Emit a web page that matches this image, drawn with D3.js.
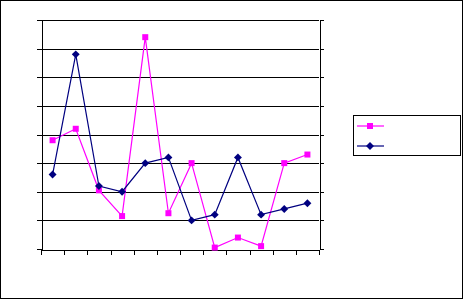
<!DOCTYPE html>
<html>
<head>
<meta charset="utf-8">
<script src="https://cdn.jsdelivr.net/npm/d3@7"></script>
<style>
  html, body { margin: 0; padding: 0; background: #fff; }
  svg { display: block; }
</style>
</head>
<body>
<svg id="chart" width="464" height="300"></svg>
<script>
// categories (no labels shown in the picture)
const categories = [1, 2, 3, 4, 5, 6, 7, 8, 9, 10, 11, 12];
const yTicks = [0, 1, 2, 3, 4, 5, 6, 7, 8];

// series values
const pinkValues = [3.8, 4.2, 2.05, 1.15, 7.4, 1.25, 3.0, 0.05, 0.4, 0.1, 3.0, 3.3];
const navyValues = [2.6, 6.8, 2.2, 2.0, 3.0, 3.2, 1.0, 1.2, 3.2, 1.2, 1.4, 1.6];

const svg = d3.select('#chart');
const W = 464, H = 300;

// outer frame
svg.append('rect')
  .attr('x', 0.5).attr('y', 0.5)
  .attr('width', W - 2).attr('height', H - 2)
  .attr('fill', '#fff').attr('stroke', '#000').attr('stroke-width', 1);

// plot area
const plotL = 41, plotR = 319, plotT = 20, plotB = 249;

const x = d3.scaleBand().domain(categories).range([plotL, plotR]);
const xEdge = d3.scaleLinear().domain([0, categories.length]).range([plotL, plotR]);
const y = d3.scaleLinear().domain([0, 8]).range([plotB, plotT]);
const py = d => Math.round(y(d)) + 0.5;

// gridlines
svg.append('g')
  .selectAll('line')
  .data(yTicks.slice(1))
  .join('line')
  .attr('x1', plotL).attr('x2', plotR)
  .attr('y1', py).attr('y2', py)
  .attr('stroke', '#000').attr('stroke-width', 1);

// left axis
const yAxisL = svg.append('g')
  .attr('transform', `translate(${plotL + 0.5},0)`)
  .call(d3.axisLeft(y).tickValues(yTicks).tickSize(5).tickSizeOuter(0).tickFormat(''));

// right axis
const yAxisR = svg.append('g')
  .attr('transform', `translate(${plotR + 0.5},0)`)
  .call(d3.axisRight(y).tickValues(yTicks).tickSize(4).tickSizeOuter(0).tickFormat(''));

// bottom axis (ticks between categories)
const xAxis = svg.append('g')
  .attr('transform', `translate(0,${plotB + 0.5})`)
  .call(d3.axisBottom(xEdge).tickValues(d3.range(categories.length + 1)).tickSize(5).tickSizeOuter(0).tickFormat(''));

[yAxisL, yAxisR, xAxis].forEach(g => {
  g.selectAll('path, line').attr('stroke', '#000').attr('shape-rendering', 'crispEdges');
});

const cx = i => x(categories[i]) + x.bandwidth() / 2;

const line = d3.line()
  .x((d, i) => cx(i))
  .y(d => y(d));

const PINK = '#ff00ff';
const NAVY = '#000080';

// pink series
svg.append('path')
  .datum(pinkValues)
  .attr('d', line)
  .attr('fill', 'none')
  .attr('stroke', PINK)
  .attr('stroke-width', 1.2);

// navy series
svg.append('path')
  .datum(navyValues)
  .attr('d', line)
  .attr('fill', 'none')
  .attr('stroke', NAVY)
  .attr('stroke-width', 1.2);

svg.append('g')
  .selectAll('rect')
  .data(pinkValues)
  .join('rect')
  .attr('x', (d, i) => cx(i) - 3)
  .attr('y', d => y(d) - 3)
  .attr('width', 6).attr('height', 6)
  .attr('fill', PINK);

const diamond = d3.symbol().type(d3.symbolDiamond2).size(40);
svg.append('g')
  .selectAll('path')
  .data(navyValues)
  .join('path')
  .attr('transform', (d, i) => `translate(${cx(i)},${y(d)})`)
  .attr('d', diamond)
  .attr('fill', NAVY);

// legend
const lg = svg.append('g');
lg.append('rect')
  .attr('x', 353.5).attr('y', 115.5)
  .attr('width', 107).attr('height', 40)
  .attr('fill', '#fff').attr('stroke', '#000').attr('stroke-width', 1);

lg.append('line')
  .attr('x1', 357).attr('x2', 384).attr('y1', 126).attr('y2', 126)
  .attr('stroke', PINK).attr('stroke-width', 1.2);
lg.append('rect')
  .attr('x', 367).attr('y', 123).attr('width', 6).attr('height', 6)
  .attr('fill', PINK);

lg.append('line')
  .attr('x1', 357).attr('x2', 384).attr('y1', 146).attr('y2', 146)
  .attr('stroke', NAVY).attr('stroke-width', 1.2);
lg.append('path')
  .attr('transform', 'translate(370,146)')
  .attr('d', diamond)
  .attr('fill', NAVY);
</script>
</body>
</html>
